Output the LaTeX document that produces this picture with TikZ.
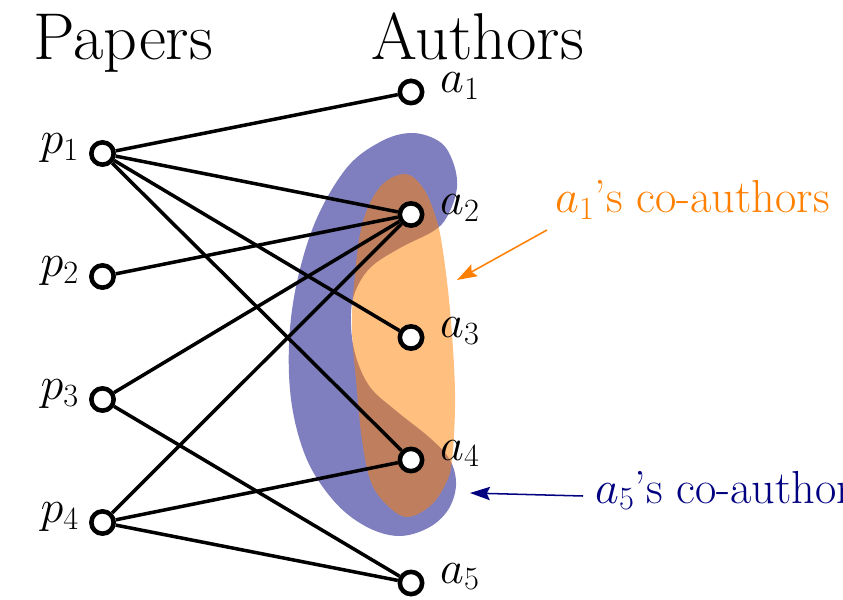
\RequirePackage{fix-cm}
\documentclass[tikz,border=0pt]{standalone}
\usetikzlibrary{arrows.meta}
\definecolor{navyc}{rgb}{0,0,0.5}
\definecolor{orangec}{rgb}{1,0.5,0}
\begin{document}
\begin{tikzpicture}[x=0.03cm,y=-0.03cm,
  vtx/.style={circle,draw=black,fill=white,line width=3.9pt,minimum size=0.67cm,inner sep=0pt},
  edge/.style={line width=3pt},
  lbl/.style={font=\fontsize{39.5}{44}\selectfont,inner sep=0pt},
  ttl/.style={font=\fontsize{56.5}{62}\selectfont,inner sep=0pt,anchor=base west},
  blob/.style={opacity=0.5},
  pointer/.style={line width=1.3pt,-{Stealth[length=0.6cm,width=0.4cm,inset=0.1cm]}}]
\useasboundingbox (0,0) rectangle (843,600);

% blobs
\fill[blob,navyc] plot[smooth cycle,tension=0.6] coordinates{
 (412,133) (440,142) (453,162) (457,187) (449,213) (435,230) (400,248) (370,268)
 (354,295) (351,325) (356,357) (370,387) (395,410) (430,438) (450,460) (456,485)
 (448,510) (428,528) (398,536) (365,526) (333,500) (305,455) (290,390) (292,310)
 (312,230) (345,170) (380,142)};
\fill[blob,orangec] plot[smooth cycle,tension=0.6] coordinates{
 (405,174) (423,188) (435,215) (442,245) (450,310) (455,393) (452,460) (445,485)
 (430,506) (407,517) (387,505) (371,482) (362,440) (356,380) (352,330) (354,285)
 (362,225) (380,187)};

% titles
\node[ttl] (tp) at (33,60) {Papers};
\node[ttl] (ta) at (371,60) {Authors};

% vertices
\node[vtx] (p1) at (102.5,153.5) {};
\node[vtx] (p2) at (102.5,276.5) {};
\node[vtx] (p3) at (102.5,399.5) {};
\node[vtx] (p4) at (102.5,522.5) {};
\node[vtx] (a1) at (411,92) {};
\node[vtx] (a2) at (411,214.5) {};
\node[vtx] (a3) at (411,337.5) {};
\node[vtx] (a4) at (411,460) {};
\node[vtx] (a5) at (411,583) {};

% vertex labels
\node[lbl,anchor=base east] (lp1) at (79,153.5) {$p_1$};
\node[lbl,anchor=base east] (lp2) at (79,276.5) {$p_2$};
\node[lbl,anchor=base east] (lp3) at (79,399.5) {$p_3$};
\node[lbl,anchor=base east] (lp4) at (79,522.5) {$p_4$};
\node[lbl,anchor=base west] (la1) at (440,93) {$a_1$};
\node[lbl,anchor=base west] (la2) at (440,215) {$a_2$};
\node[lbl,anchor=base west] (la3) at (440,338) {$a_3$};
\node[lbl,anchor=base west] (la4) at (440,460) {$a_4$};
\node[lbl,anchor=base west] (la5) at (440,583) {$a_5$};

% edges
\draw[edge] (p1) -- (a1);
\draw[edge] (p1) -- (a2);
\draw[edge] (p1) -- (a3);
\draw[edge] (p1) -- (a4);
\draw[edge] (p2) -- (a2);
\draw[edge] (p3) -- (a2);
\draw[edge] (p3) -- (a5);
\draw[edge] (p4) -- (a2);
\draw[edge] (p4) -- (a4);
\draw[edge] (p4) -- (a5);

% annotations
\node[lbl,anchor=base west,text=orangec] (c1) at (555,213) {$a_1$'s co-authors};
\node[lbl,anchor=base west,text=navyc] (c5) at (595,503) {$a_5$'s co-authors};
\coordinate (o1) at (547,230);
\coordinate (o2) at (457,280);
\coordinate (b1) at (583,496);
\coordinate (b2) at (470,493);
\draw[pointer,orangec] (o1) -- (o2);
\draw[pointer,navyc] (b1) -- (b2);
\end{tikzpicture}
\end{document}
